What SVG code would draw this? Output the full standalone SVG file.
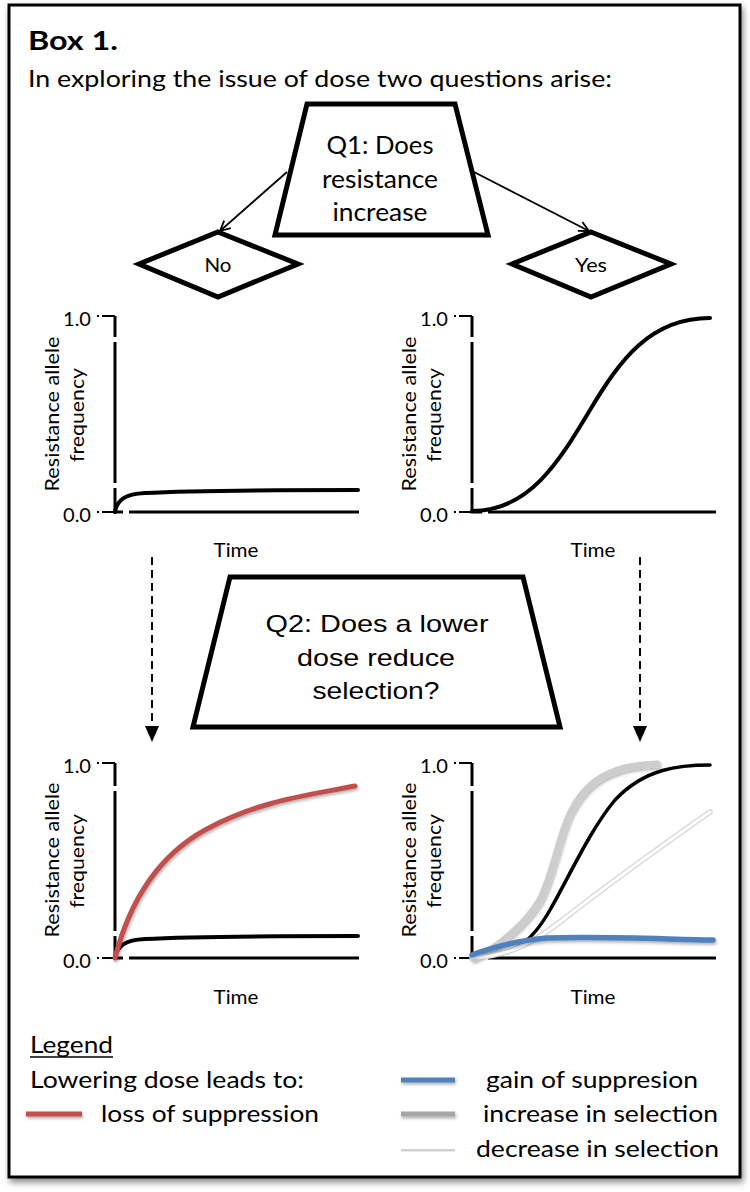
<svg xmlns="http://www.w3.org/2000/svg" width="750" height="1192" viewBox="0 0 750 1192">
<defs>
<style>
.cal{font-family:Lato,"Open Sans","Liberation Sans",sans-serif;fill:#000}
.ari{font-family:"Liberation Sans",Arial,sans-serif;fill:#000}
.yl{font-family:Lato,"Liberation Sans",sans-serif;font-size:20px;fill:#000;text-anchor:middle}
.tk{font-family:Lato,"Liberation Sans",sans-serif;font-size:19px;text-anchor:end}
.tm{font-family:Lato,"Liberation Sans",sans-serif;font-size:19px;text-anchor:middle}
.ax{stroke:#000;stroke-width:3;fill:none}
.tick{stroke:#000;stroke-width:2;fill:none}
.gap{stroke:#fff;stroke-width:4;fill:none}
.shape{fill:#fff;stroke:#000;stroke-width:5;stroke-linejoin:miter}
.curve{fill:none;stroke:#000;stroke-width:4;stroke-linecap:round}
.conn{stroke:#000;stroke-width:1.8;fill:none}
.dash{stroke:#000;stroke-width:2;fill:none;stroke-dasharray:8 5}
</style>
<marker id="open" viewBox="0 0 12 12" refX="11" refY="6" markerWidth="12" markerHeight="12" markerUnits="userSpaceOnUse" orient="auto">
<path d="M1,1 L11,6 L1,11" fill="none" stroke="#000" stroke-width="1.8"/>
</marker>
<marker id="tri" viewBox="0 0 16 14" refX="2" refY="7" markerWidth="16" markerHeight="14" markerUnits="userSpaceOnUse" orient="auto">
<path d="M0,0 L16,7 L0,14 Z" fill="#000"/>
</marker>
<filter id="boxsh" filterUnits="userSpaceOnUse" x="0" y="0" width="750" height="1192">
<feDropShadow dx="2" dy="4" stdDeviation="3" flood-color="#000" flood-opacity="0.45"/>
</filter>
<filter id="sh" filterUnits="userSpaceOnUse" x="0" y="0" width="750" height="1192">
<feDropShadow dx="1" dy="2" stdDeviation="1.5" flood-color="#000" flood-opacity="0.3"/>
</filter>
</defs>

<rect x="0" y="0" width="750" height="1192" fill="#fff"/>
<rect id="frame" x="9" y="5" width="731" height="1172" fill="#fff" stroke="#000" stroke-width="3" filter="url(#boxsh)"/>

<g id="header">
<text class="cal" x="28" y="50" font-size="27" font-weight="bold" textLength="90" lengthAdjust="spacingAndGlyphs">Box 1.</text>
<text class="cal" x="28" y="87" font-size="24" textLength="584" lengthAdjust="spacingAndGlyphs">In exploring the issue of dose two questions arise:</text>
</g>

<g id="q1">
<polygon class="shape" points="307,104 455,104 488,235 275,235"/>
<text class="cal" x="380" y="154" font-size="25" text-anchor="middle" textLength="107" lengthAdjust="spacingAndGlyphs">Q1: Does</text>
<text class="cal" x="380" y="188" font-size="25" text-anchor="middle" textLength="116" lengthAdjust="spacingAndGlyphs">resistance</text>
<text class="cal" x="380" y="221" font-size="25" text-anchor="middle" textLength="95" lengthAdjust="spacingAndGlyphs">increase</text>
</g>

<g id="no">
<polygon class="shape" points="218,232 298,264 218,297 139,264"/>
<text class="cal" x="218" y="272" font-size="20" text-anchor="middle" textLength="27" lengthAdjust="spacingAndGlyphs">No</text>
</g>

<g id="yes">
<polygon class="shape" points="591,232 671,264 591,297 512,264"/>
<text class="cal" x="591" y="272" font-size="20" text-anchor="middle" textLength="32" lengthAdjust="spacingAndGlyphs">Yes</text>
</g>

<g id="plot-no">
<line class="tick" x1="97" y1="316" x2="115" y2="316" stroke-dasharray="2 3 20"/>
<line class="tick" x1="97" y1="512" x2="115" y2="512" stroke-dasharray="2 3 20"/>
<polyline class="ax" points="115,316 115,512 359,512"/>
<line class="gap" x1="115" y1="337" x2="115" y2="342"/>
<line class="gap" x1="115" y1="483" x2="115" y2="488"/>
<line class="gap" x1="123" y1="512" x2="129" y2="512"/>
<text class="tk" x="91" y="326" textLength="28" lengthAdjust="spacingAndGlyphs">1.0</text>
<text class="tk" x="91" y="522" textLength="28" lengthAdjust="spacingAndGlyphs">0.0</text>
<text class="yl" transform="translate(59,414) rotate(-90)" textLength="155" lengthAdjust="spacingAndGlyphs">Resistance allele</text>
<text class="yl" transform="translate(84,415) rotate(-90)" textLength="94" lengthAdjust="spacingAndGlyphs">frequency</text>
<path class="curve" d="M115,512 C117,500 125,494 145,493 C200,490 280,490 358,490"/>
<text class="tm" x="236" y="557" textLength="45" lengthAdjust="spacingAndGlyphs">Time</text>
</g>

<g id="plot-yes">
<line class="tick" x1="454" y1="316" x2="472" y2="316" stroke-dasharray="2 3 20"/>
<line class="tick" x1="454" y1="512" x2="472" y2="512" stroke-dasharray="2 3 20"/>
<polyline class="ax" points="472,316 472,512 716,512"/>
<line class="gap" x1="472" y1="337" x2="472" y2="342"/>
<line class="gap" x1="472" y1="483" x2="472" y2="488"/>
<line class="gap" x1="482" y1="512" x2="488" y2="512"/>
<text class="tk" x="448" y="326" textLength="28" lengthAdjust="spacingAndGlyphs">1.0</text>
<text class="tk" x="448" y="522" textLength="28" lengthAdjust="spacingAndGlyphs">0.0</text>
<text class="yl" transform="translate(416,414) rotate(-90)" textLength="155" lengthAdjust="spacingAndGlyphs">Resistance allele</text>
<text class="yl" transform="translate(441,415) rotate(-90)" textLength="94" lengthAdjust="spacingAndGlyphs">frequency</text>
<path class="curve" d="M472,511 C530,511 560,460 590,410 C620,360 650,318 710,318"/>
<text class="tm" x="593" y="557" textLength="45" lengthAdjust="spacingAndGlyphs">Time</text>
</g>

<g id="q2">
<polygon class="shape" points="230,577 523,577 560,727 193,727"/>
<text class="ari" x="377" y="632" font-size="24" text-anchor="middle" textLength="223" lengthAdjust="spacingAndGlyphs">Q2: Does a lower</text>
<text class="ari" x="376" y="666" font-size="24" text-anchor="middle" textLength="158" lengthAdjust="spacingAndGlyphs">dose reduce</text>
<text class="ari" x="376" y="699" font-size="24" text-anchor="middle" textLength="127" lengthAdjust="spacingAndGlyphs">selection?</text>
</g>

<g id="plot-no-dose">
<line class="tick" x1="97" y1="763" x2="115" y2="763" stroke-dasharray="2 3 20"/>
<line class="tick" x1="97" y1="958" x2="115" y2="958" stroke-dasharray="2 3 20"/>
<polyline class="ax" points="115,763 115,958 359,958"/>
<line class="gap" x1="115" y1="786" x2="115" y2="791"/>
<line class="gap" x1="115" y1="931" x2="115" y2="936"/>
<line class="gap" x1="123" y1="958" x2="129" y2="958"/>
<text class="tk" x="91" y="773" textLength="28" lengthAdjust="spacingAndGlyphs">1.0</text>
<text class="tk" x="91" y="968" textLength="28" lengthAdjust="spacingAndGlyphs">0.0</text>
<text class="yl" transform="translate(59,860) rotate(-90)" textLength="155" lengthAdjust="spacingAndGlyphs">Resistance allele</text>
<text class="yl" transform="translate(84,861) rotate(-90)" textLength="94" lengthAdjust="spacingAndGlyphs">frequency</text>
<path class="curve" d="M115,958 C117,946 125,940 145,939 C200,936 280,936 358,936"/>
<path d="M115,958 C130,900 160,855 205,830 C260,800 310,795 355,786" fill="none" stroke="#c0504d" stroke-width="5" stroke-linecap="round" filter="url(#sh)"/>
<text class="tm" x="236" y="1004" textLength="45" lengthAdjust="spacingAndGlyphs">Time</text>
</g>

<g id="plot-yes-dose">
<line class="tick" x1="454" y1="763" x2="472" y2="763" stroke-dasharray="2 3 20"/>
<line class="tick" x1="454" y1="958" x2="472" y2="958" stroke-dasharray="2 3 20"/>
<polyline class="ax" points="472,763 472,958 716,958"/>
<line class="gap" x1="472" y1="786" x2="472" y2="791"/>
<line class="gap" x1="472" y1="931" x2="472" y2="936"/>
<line class="gap" x1="482" y1="958" x2="488" y2="958"/>
<text class="tk" x="448" y="773" textLength="28" lengthAdjust="spacingAndGlyphs">1.0</text>
<text class="tk" x="448" y="968" textLength="28" lengthAdjust="spacingAndGlyphs">0.0</text>
<text class="yl" transform="translate(416,860) rotate(-90)" textLength="155" lengthAdjust="spacingAndGlyphs">Resistance allele</text>
<text class="yl" transform="translate(441,861) rotate(-90)" textLength="94" lengthAdjust="spacingAndGlyphs">frequency</text>
<path d="M474,958 C495,950 525,925 540,900 C555,870 560,830 572,810 C590,775 620,765 657,764" fill="none" stroke="#cdcdcd" stroke-width="7" stroke-linecap="round" filter="url(#sh)"/>
<path d="M472,958 C510,958 530,945 550,910 C570,875 590,830 615,800 C645,768 680,765 710,765" fill="none" stroke="#000" stroke-width="3.5" stroke-linecap="round"/>
<path d="M472,958 C510,955 530,945 560,922 C620,875 670,840 710,812" fill="none" stroke="#d4d4d4" stroke-width="5.5" stroke-linecap="round"/>
<path d="M472,958 C510,955 530,945 560,922 C620,875 670,840 710,812" fill="none" stroke="#fff" stroke-width="3" stroke-linecap="round"/>
<path d="M472,955 C490,948 520,940 547,938 C600,936 660,939 713,940" fill="none" stroke="#4f81bd" stroke-width="5.5" stroke-linecap="round" filter="url(#sh)"/>
<text class="tm" x="593" y="1004" textLength="45" lengthAdjust="spacingAndGlyphs">Time</text>
</g>

<g id="connectors">
<line class="conn" x1="287" y1="172" x2="220" y2="231" marker-end="url(#open)"/>
<line class="conn" x1="474" y1="172" x2="589" y2="231" marker-end="url(#open)"/>
<line class="dash" x1="152" y1="557" x2="152" y2="728" marker-end="url(#tri)"/>
<line class="dash" x1="640" y1="557" x2="640" y2="728" marker-end="url(#tri)"/>
</g>

<g id="legend">
<text class="cal" x="30" y="1053" font-size="24" textLength="83" lengthAdjust="spacingAndGlyphs">Legend</text>
<line x1="30" y1="1057" x2="113" y2="1057" stroke="#000" stroke-width="1.5"/>
<text class="cal" x="30" y="1088" font-size="24" textLength="274" lengthAdjust="spacingAndGlyphs">Lowering dose leads to:</text>
<line x1="26" y1="1114" x2="82" y2="1114" stroke="#c0504d" stroke-width="5" filter="url(#sh)"/>
<text class="cal" x="101" y="1122" font-size="24" textLength="218" lengthAdjust="spacingAndGlyphs">loss of suppression</text>
<line x1="401" y1="1080" x2="455" y2="1080" stroke="#4f81bd" stroke-width="5" filter="url(#sh)"/>
<text class="cal" x="486" y="1088" font-size="24" textLength="212" lengthAdjust="spacingAndGlyphs">gain of suppresion</text>
<line x1="401" y1="1114" x2="455" y2="1114" stroke="#a6a6a6" stroke-width="5" filter="url(#sh)"/>
<text class="cal" x="483" y="1122" font-size="24" textLength="235" lengthAdjust="spacingAndGlyphs">increase in selection</text>
<line x1="401" y1="1149" x2="455" y2="1149" stroke="#cfcfcf" stroke-width="5"/>
<line x1="401" y1="1147.5" x2="455" y2="1147.5" stroke="#fff" stroke-width="3"/>
<text class="cal" x="476" y="1157" font-size="24" textLength="243" lengthAdjust="spacingAndGlyphs">decrease in selection</text>
</g>
</svg>
